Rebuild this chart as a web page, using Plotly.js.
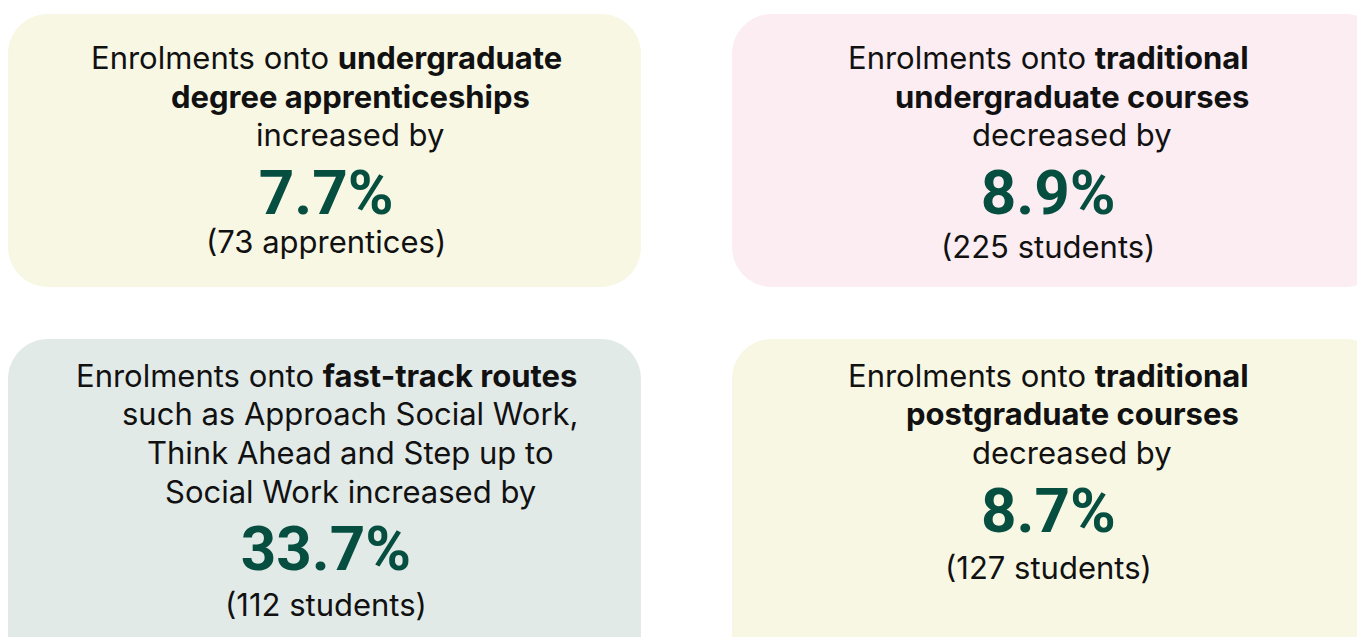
<!DOCTYPE html>
<html>
<head>
<meta charset="utf-8">
<script src="https://cdn.plot.ly/plotly-3.0.1.min.js"></script>
<style>html,body{margin:0;padding:0;background:#fff;}#chart{width:1357px;height:637px;}</style>
</head>
<body>
<div id="chart"></div>
<script>
// ---- data ----
const categories = ['undergraduate degree apprenticeships', 'traditional undergraduate courses', 'fast-track routes', 'traditional postgraduate courses'];
const changePct = [7.7, -8.9, 33.7, -8.7];
const changeCount = [73, -225, 112, -127];
const units = ['apprentices', 'students', 'students', 'students'];
const descLines = [
  ['Enrolments onto <b>undergraduate</b>', '<b>degree apprenticeships</b>', 'increased by'],
  ['Enrolments onto <b>traditional</b>', '<b>undergraduate courses</b>', 'decreased by'],
  ['Enrolments onto <b>fast-track routes</b>', 'such as Approach Social Work,', 'Think Ahead and Step up to', 'Social Work increased by'],
  ['Enrolments onto <b>traditional</b>', '<b>postgraduate courses</b>', 'decreased by']
];

// ---- layout geometry (pixels) ----
const boxes = [
  {x0: 8, x1: 641, y0: 14, y1: 287, fill: '#f8f7e4', cx: 326, lines: [57, 96, 134], pctTop: 172, gap: 39},
  {x0: 732, x1: 1385, y0: 14, y1: 287, fill: '#fbedf2', cx: 1048, lines: [57, 96, 134], pctTop: 172, gap: 44},
  {x0: 8, x1: 641, y0: 339, y1: 690, fill: '#e2eae8', cx: 326, lines: [375, 413, 452, 491], pctTop: 528, gap: 46},
  {x0: 732, x1: 1385, y0: 339, y1: 690, fill: '#f8f7e4', cx: 1048, lines: [375, 413, 452], pctTop: 490, gap: 47}
];

function roundRect(x0, y0, x1, y1, r) {
  const k = r * 0.4477;
  return `M${x0 + r},${y0} L${x1 - r},${y0} C${x1 - k},${y0} ${x1},${y0 + k} ${x1},${y0 + r} ` +
    `L${x1},${y1 - r} C${x1},${y1 - k} ${x1 - k},${y1} ${x1 - r},${y1} ` +
    `L${x0 + r},${y1} C${x0 + k},${y1} ${x0},${y1 - k} ${x0},${y1 - r} ` +
    `L${x0},${y0 + r} C${x0},${y0 + k} ${x0 + k},${y0} ${x0 + r},${y0} Z`;
}

const BODY = 'Inter, "Open Sans", sans-serif';
const NUM = 'Roboto, Inter, sans-serif';
const shapes = [];
const annotations = [];
boxes.forEach((b, i) => {
  shapes.push({type: 'path', xref: 'x', yref: 'y', path: roundRect(b.x0, b.y0, b.x1, b.y1, 40),
    fillcolor: b.fill, line: {width: 0}, layer: 'below'});
  descLines[i].forEach((t, j) => {
    annotations.push({x: b.cx + (j === 0 ? 0 : 24), y: b.lines[j], xref: 'x', yref: 'y', text: t,
      showarrow: false, xanchor: 'center', yanchor: 'middle',
      font: {family: BODY, size: 31, color: '#111111'}});
  });
  // percentage + count as a two-line block (base size sets the line gap)
  const pctTxt = '<span style="font-family:' + NUM.replace(/"/g, "'") + ';font-size:62px;color:#064f40"><b>' +
    Math.abs(changePct[i]).toFixed(1) + '%</b></span>';
  const cntTxt = '<span style="font-size:31px">(' + Math.abs(changeCount[i]) + ' ' + units[i] + ')</span>';
  annotations.push({x: b.cx, y: b.pctTop - 18, xref: 'x', yref: 'y',
    text: pctTxt + '<br>' + cntTxt, showarrow: false, align: 'center',
    xanchor: 'center', yanchor: 'top',
    font: {family: BODY, size: b.gap / 1.3, color: '#111111'}});
});

const layout = {
  width: 1357, height: 637,
  margin: {l: 0, r: 0, t: 0, b: 0},
  paper_bgcolor: '#ffffff', plot_bgcolor: '#ffffff',
  xaxis: {range: [0, 1357], visible: false, fixedrange: true},
  yaxis: {range: [637, 0], visible: false, fixedrange: true},
  showlegend: false,
  shapes: shapes,
  annotations: annotations
};

Plotly.newPlot('chart', [], layout, {displayModeBar: false, staticPlot: true});
</script>
</body>
</html>
